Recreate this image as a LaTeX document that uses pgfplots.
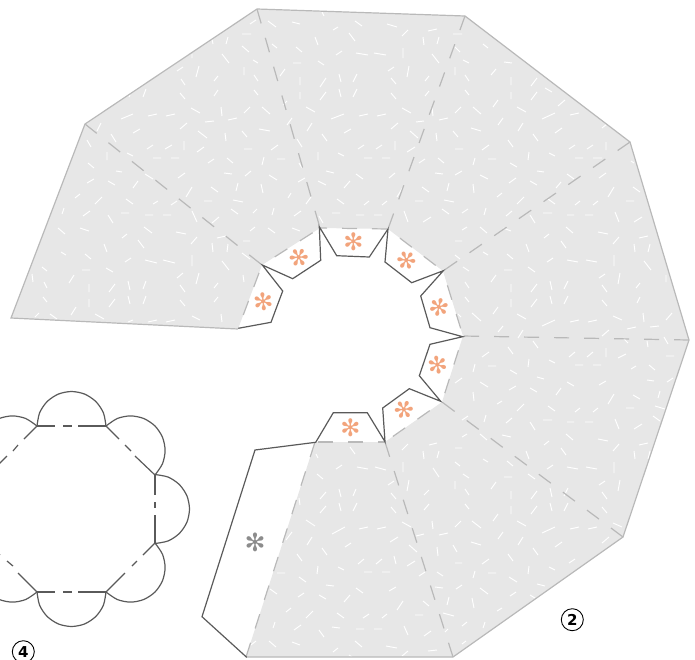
\documentclass[border=0pt]{standalone}
\usepackage{pgfplots}
\pgfplotsset{compat=1.18}
\usepackage{fontspec}
\setmainfont{DejaVu Sans}
\definecolor{paper}{HTML}{E7E7E7}
\definecolor{fold}{HTML}{B9B9B9}
\definecolor{tabline}{HTML}{5A5A5A}
\definecolor{spark}{HTML}{F2A47C}
\definecolor{sparkgray}{HTML}{8C8C8C}
\newcommand\Spark[5]{\addplot[only marks,mark=text,text mark as node=true,text mark={\fontsize{#5}{#5}\selectfont ✻},text mark style={text=#4,rotate=#3,inner sep=0pt}] coordinates {(#1,#2)};}
\begin{document}
\begin{tikzpicture}[x=1pt,y=1pt]
\useasboundingbox (0,0) rectangle (695,659);
\clip (0,0) rectangle (695,659);
\begin{axis}[at={(0,0)},anchor=south west,scale only axis,width=695pt,height=659pt,
 xmin=0,xmax=695,ymin=0,ymax=659,y dir=reverse,axis lines=none,unbounded coords=jump,clip=true]
% paper
\addplot[fill=paper,draw=none] coordinates {(257,9)(465,16)(630,142)(689,340)(623,537)(453,657)(246,657)(315,442)(385,442)(442,402)(463,336)(443,271)(388,229)(320,228)(262,265)(238,329)(11,318)(85,124)(257,9)};
% texture
\addplot[white,line width=0.95pt] coordinates {
(87,140)(91,147)(nan,nan)(107,152)(107,160)(nan,nan)(88,163)(94,168)(nan,nan)(116,171)(122,172)(nan,nan)(87,183)(94,179)(nan,nan)(108,181)(115,185)(nan,nan)(133,188)(138,181)(nan,nan)(75,198)(80,194)(nan,nan)(95,204)(102,197)(nan,nan)(126,199)(133,204)(nan,nan)(153,204)(158,201)(nan,nan)(171,205)(177,201)(nan,nan)(62,214)(64,208)(nan,nan)(83,216)(90,211)(nan,nan)(108,215)(113,223)(nan,nan)(121,213)(129,213)(nan,nan)(145,215)(153,215)(nan,nan)(163,215)(171,215)(nan,nan)(192,211)(197,222)(nan,nan)(58,228)(65,234)(nan,nan)(80,228)(89,231)(nan,nan)(122,238)(127,234)(nan,nan)(144,227)(152,233)(nan,nan)(176,232)(186,234)(nan,nan)(191,244)(197,237)(nan,nan)(212,243)(213,252)(nan,nan)(217,238)(226,236)(nan,nan)(227,252)(228,244)(nan,nan)(243,241)(250,241)(nan,nan)(104,244)(107,252)(nan,nan)(138,240)(144,248)(nan,nan)(61,252)(66,255)(nan,nan)(85,254)(91,259)(nan,nan)(125,262)(131,258)(nan,nan)(145,260)(157,263)(nan,nan)(163,260)(175,263)(nan,nan)(192,255)(192,266)(nan,nan)(222,261)(229,270)(nan,nan)(243,275)(244,282)(nan,nan)(42,267)(47,271)(nan,nan)(82,270)(90,270)(nan,nan)(106,268)(113,272)(nan,nan)(32,274)(33,282)(nan,nan)(69,283)(74,275)(nan,nan)(44,282)(47,288)(nan,nan)(89,284)(89,292)(nan,nan)(109,292)(115,284)(nan,nan)(128,281)(130,290)(nan,nan)(143,289)(146,281)(nan,nan)(177,278)(183,273)(nan,nan)(196,284)(199,273)(nan,nan)(180,285)(185,292)(nan,nan)(214,288)(218,283)(nan,nan)(43,297)(47,302)(nan,nan)(89,299)(89,307)(nan,nan)(109,307)(115,299)(nan,nan)(128,296)(130,304)(nan,nan)(143,304)(146,296)(nan,nan)(180,300)(185,306)(nan,nan)(214,302)(218,297)(nan,nan)(71,315)(76,307)(nan,nan)(35,317)(39,313)(nan,nan)(50,314)(57,319)(nan,nan)(95,314)(104,319)(nan,nan)(128,322)(133,320)(nan,nan)(148,322)(157,320)(nan,nan)(166,322)(175,320)(nan,nan)(192,316)(200,320)(nan,nan)(221,314)(222,322)(nan,nan)
(250,24)(256,20)(nan,nan)(242,34)(251,34)(nan,nan)(268,21)(276,27)(nan,nan)(292,22)(300,24)(nan,nan)(322,12)(324,16)(nan,nan)(212,39)(213,44)(nan,nan)(226,44)(228,37)(nan,nan)(242,46)(249,52)(nan,nan)(272,44)(277,48)(nan,nan)(315,37)(318,45)(nan,nan)(296,47)(302,52)(nan,nan)(192,54)(192,58)(nan,nan)(222,54)(229,63)(nan,nan)(253,60)(258,63)(nan,nan)(293,63)(301,63)(nan,nan)(318,61)(324,65)(nan,nan)(177,71)(183,67)(nan,nan)(196,77)(199,66)(nan,nan)(244,67)(244,75)(nan,nan)(280,76)(285,69)(nan,nan)(214,81)(218,76)(nan,nan)(254,75)(258,81)(nan,nan)(300,77)(300,85)(nan,nan)(320,87)(326,78)(nan,nan)(181,79)(185,85)(nan,nan)(143,97)(146,89)(nan,nan)(129,97)(130,95)(nan,nan)(214,96)(218,90)(nan,nan)(254,90)(258,95)(nan,nan)(300,92)(300,99)(nan,nan)(320,100)(326,92)(nan,nan)(180,93)(185,99)(nan,nan)(283,105)(287,101)(nan,nan)(121,119)(133,114)(nan,nan)(148,116)(157,114)(nan,nan)(166,116)(175,114)(nan,nan)(191,108)(200,113)(nan,nan)(221,107)(222,116)(nan,nan)(244,113)(250,107)(nan,nan)(262,107)(270,114)(nan,nan)(306,107)(315,112)(nan,nan)(205,122)(214,121)(nan,nan)(228,120)(237,118)(nan,nan)(287,125)(292,118)(nan,nan)(307,131)(312,123)(nan,nan)(97,131)(101,123)(nan,nan)(180,129)(187,123)(nan,nan)(133,133)(140,129)(nan,nan)(111,134)(116,142)(nan,nan)(198,131)(207,138)(nan,nan)(225,133)(226,141)(nan,nan)(242,131)(247,137)(nan,nan)(259,129)(270,131)(nan,nan)(322,134)(327,141)(nan,nan)(147,149)(153,145)(nan,nan)(165,149)(172,145)(nan,nan)(184,141)(184,150)(nan,nan)(197,152)(204,147)(nan,nan)(297,139)(302,147)(nan,nan)(271,150)(278,145)(nan,nan)(244,149)(252,149)(nan,nan)(127,153)(133,156)(nan,nan)(153,158)(161,158)(nan,nan)(171,158)(179,158)(nan,nan)(208,163)(214,159)(nan,nan)(227,158)(233,163)(nan,nan)(262,165)(264,157)(nan,nan)(277,159)(285,159)(nan,nan)(318,160)(318,152)(nan,nan)(299,163)(302,168)(nan,nan)(224,173)(232,174)(nan,nan)(245,176)(251,171)(nan,nan)(145,174)(153,179)(nan,nan)(178,178)(185,173)(nan,nan)(269,175)(277,180)(nan,nan)(298,182)(305,178)(nan,nan)(318,181)(326,185)(nan,nan)(236,191)(238,183)(nan,nan)(186,197)(192,187)(nan,nan)(211,187)(218,192)(nan,nan)(261,184)(263,193)(nan,nan)(288,198)(291,193)(nan,nan)(204,201)(212,201)(nan,nan)(233,200)(243,202)(nan,nan)(306,204)(311,197)(nan,nan)(253,213)(257,209)(nan,nan)(231,209)(238,214)(nan,nan)(272,215)(274,208)(nan,nan)(294,216)(301,211)(nan,nan)(212,223)(219,217)(nan,nan)(319,216)(323,223)(nan,nan)(250,231)(255,227)(nan,nan)(268,228)(275,233)(nan,nan)(292,228)(300,231)(nan,nan)(242,253)(250,259)(nan,nan)
(355,21)(362,26)(nan,nan)(387,24)(397,27)(nan,nan)(333,30)(338,27)(nan,nan)(428,31)(437,29)(nan,nan)(402,36)(408,30)(nan,nan)(453,34)(462,34)(nan,nan)(349,33)(355,41)(nan,nan)(423,37)(424,45)(nan,nan)(437,44)(439,37)(nan,nan)(454,46)(460,52)(nan,nan)(483,44)(488,48)(nan,nan)(336,55)(342,51)(nan,nan)(356,53)(368,55)(nan,nan)(374,53)(386,55)(nan,nan)(403,48)(403,58)(nan,nan)(432,54)(439,63)(nan,nan)(463,60)(469,63)(nan,nan)(504,62)(512,63)(nan,nan)(388,71)(394,67)(nan,nan)(407,77)(409,66)(nan,nan)(455,67)(455,75)(nan,nan)(491,75)(496,69)(nan,nan)(339,74)(341,82)(nan,nan)(353,82)(357,74)(nan,nan)(425,81)(429,76)(nan,nan)(465,75)(469,81)(nan,nan)(511,77)(511,85)(nan,nan)(531,86)(537,78)(nan,nan)(391,78)(396,84)(nan,nan)(339,89)(341,97)(nan,nan)(353,97)(357,89)(nan,nan)(425,96)(429,91)(nan,nan)(465,90)(469,95)(nan,nan)(511,92)(511,99)(nan,nan)(531,100)(537,92)(nan,nan)(391,93)(396,99)(nan,nan)(493,107)(498,100)(nan,nan)(331,119)(344,114)(nan,nan)(359,116)(368,114)(nan,nan)(377,116)(386,114)(nan,nan)(402,108)(411,113)(nan,nan)(432,107)(433,116)(nan,nan)(455,113)(461,107)(nan,nan)(473,107)(481,114)(nan,nan)(517,107)(526,112)(nan,nan)(416,122)(424,121)(nan,nan)(439,120)(448,118)(nan,nan)(391,129)(398,123)(nan,nan)(344,133)(351,129)(nan,nan)(410,131)(418,138)(nan,nan)(436,133)(437,141)(nan,nan)(358,149)(364,145)(nan,nan)(376,149)(382,145)(nan,nan)(395,141)(395,150)(nan,nan)(407,152)(415,147)(nan,nan)(453,131)(458,137)(nan,nan)(338,153)(344,156)(nan,nan)(364,158)(372,158)(nan,nan)(382,158)(390,158)(nan,nan)(419,163)(425,159)(nan,nan)(438,158)(444,163)(nan,nan)(455,149)(463,149)(nan,nan)(435,173)(443,174)(nan,nan)(356,174)(363,179)(nan,nan)(389,178)(395,173)(nan,nan)(326,171)(334,173)(nan,nan)(344,188)(350,181)(nan,nan)(447,191)(449,183)(nan,nan)(397,197)(403,187)(nan,nan)(422,187)(429,192)(nan,nan)(337,199)(344,204)(nan,nan)(364,205)(369,201)(nan,nan)(382,205)(387,201)(nan,nan)(415,201)(423,201)(nan,nan)(444,200)(454,202)(nan,nan)(332,213)(340,213)(nan,nan)(356,215)(364,215)(nan,nan)(374,215)(382,215)(nan,nan)(404,211)(408,222)(nan,nan)(423,222)(431,217)(nan,nan)(442,209)(449,214)(nan,nan)(545,88)(552,92)(nan,nan)(565,100)(558,106)(nan,nan)
(498,125)(503,118)(nan,nan)(518,131)(523,123)(nan,nan)(542,119)(555,113)(nan,nan)(570,115)(579,113)(nan,nan)(471,128)(481,131)(nan,nan)(533,134)(538,141)(nan,nan)(555,133)(562,128)(nan,nan)(508,140)(513,147)(nan,nan)(602,128)(607,124)(nan,nan)(482,150)(489,145)(nan,nan)(569,149)(575,145)(nan,nan)(587,149)(593,145)(nan,nan)(606,150)(606,142)(nan,nan)(528,160)(529,152)(nan,nan)(549,153)(555,156)(nan,nan)(575,158)(583,158)(nan,nan)(593,158)(602,158)(nan,nan)(473,165)(475,158)(nan,nan)(488,159)(496,159)(nan,nan)(631,161)(634,163)(nan,nan)(510,163)(517,167)(nan,nan)(455,175)(462,171)(nan,nan)(537,171)(544,172)(nan,nan)(480,175)(488,179)(nan,nan)(509,183)(516,178)(nan,nan)(567,174)(574,179)(nan,nan)(599,178)(606,173)(nan,nan)(530,181)(537,185)(nan,nan)(556,188)(561,182)(nan,nan)(473,184)(474,193)(nan,nan)(633,187)(640,192)(nan,nan)(608,197)(614,187)(nan,nan)(497,197)(502,193)(nan,nan)(517,204)(524,197)(nan,nan)(548,199)(555,204)(nan,nan)(575,205)(580,201)(nan,nan)(593,205)(598,201)(nan,nan)(626,201)(634,201)(nan,nan)(462,213)(468,209)(nan,nan)(484,215)(486,208)(nan,nan)(506,216)(512,211)(nan,nan)(530,215)(535,223)(nan,nan)(543,213)(552,213)(nan,nan)(567,215)(574,215)(nan,nan)(585,215)(593,215)(nan,nan)(615,212)(619,222)(nan,nan)(634,222)(642,217)(nan,nan)(462,230)(467,227)(nan,nan)(480,227)(487,233)(nan,nan)(503,228)(511,231)(nan,nan)(544,238)(549,234)(nan,nan)(566,227)(573,233)(nan,nan)(598,232)(608,234)(nan,nan)(639,238)(648,236)(nan,nan)(613,244)(619,237)(nan,nan)(455,241)(462,241)(nan,nan)(483,252)(488,255)(nan,nan)(526,244)(529,252)(nan,nan)(561,241)(566,248)(nan,nan)(634,244)(635,252)(nan,nan)(648,252)(650,244)(nan,nan)(455,255)(460,259)(nan,nan)(507,254)(513,259)(nan,nan)(547,262)(553,258)(nan,nan)(567,260)(578,262)(nan,nan)(586,260)(597,262)(nan,nan)(614,255)(614,266)(nan,nan)(644,261)(651,270)(nan,nan)(463,267)(469,271)(nan,nan)(504,270)(512,270)(nan,nan)(528,267)(535,272)(nan,nan)(599,278)(605,274)(nan,nan)(618,284)(620,273)(nan,nan)(491,282)(496,275)(nan,nan)(666,275)(666,282)(nan,nan)(465,282)(469,288)(nan,nan)(511,284)(511,292)(nan,nan)(531,292)(537,284)(nan,nan)(550,281)(552,290)(nan,nan)(564,289)(568,281)(nan,nan)(602,285)(607,292)(nan,nan)(636,288)(640,283)(nan,nan)(465,297)(469,302)(nan,nan)(511,299)(511,307)(nan,nan)(531,307)(537,299)(nan,nan)(550,296)(552,304)(nan,nan)(564,304)(568,296)(nan,nan)(602,300)(607,306)(nan,nan)(637,303)(640,297)(nan,nan)(493,314)(498,307)(nan,nan)(472,313)(481,321)(nan,nan)(517,314)(526,319)(nan,nan)(458,314)(461,317)(nan,nan)(542,326)(555,320)(nan,nan)(570,322)(579,320)(nan,nan)(588,322)(597,320)(nan,nan)(613,316)(622,320)(nan,nan)(643,313)(644,322)(nan,nan)(666,320)(672,313)(nan,nan)(498,332)(503,326)(nan,nan)(518,338)(523,330)(nan,nan)(602,336)(609,330)(nan,nan)(627,329)(636,327)(nan,nan)(650,327)(659,326)(nan,nan)(623,338)(628,343)(nan,nan)(647,341)(648,347)(nan,nan)(664,337)(668,344)(nan,nan)
(533,341)(538,348)(nan,nan)(508,347)(513,354)(nan,nan)(482,357)(489,352)(nan,nan)(569,357)(575,352)(nan,nan)(587,357)(593,352)(nan,nan)(606,357)(606,348)(nan,nan)(618,358)(626,354)(nan,nan)(666,356)(674,356)(nan,nan)(528,367)(529,359)(nan,nan)(549,360)(555,363)(nan,nan)(575,365)(583,365)(nan,nan)(593,365)(601,365)(nan,nan)(473,372)(475,364)(nan,nan)(488,366)(496,366)(nan,nan)(631,369)(636,366)(nan,nan)(649,365)(655,370)(nan,nan)(510,370)(517,374)(nan,nan)(455,383)(462,378)(nan,nan)(537,377)(544,379)(nan,nan)(647,380)(654,381)(nan,nan)(480,382)(488,387)(nan,nan)(509,390)(516,386)(nan,nan)(567,382)(574,386)(nan,nan)(599,385)(606,381)(nan,nan)(667,382)(673,378)(nan,nan)(530,388)(537,392)(nan,nan)(556,395)(561,388)(nan,nan)(473,392)(474,401)(nan,nan)(633,395)(640,399)(nan,nan)(658,398)(660,391)(nan,nan)(608,404)(614,394)(nan,nan)(497,404)(502,401)(nan,nan)(517,411)(524,404)(nan,nan)(548,406)(555,411)(nan,nan)(575,412)(580,408)(nan,nan)(593,412)(598,408)(nan,nan)(626,408)(634,408)(nan,nan)(655,406)(665,409)(nan,nan)(462,420)(468,416)(nan,nan)(484,422)(486,415)(nan,nan)(506,423)(512,418)(nan,nan)(530,422)(535,430)(nan,nan)(543,420)(552,420)(nan,nan)(567,422)(574,422)(nan,nan)(585,422)(593,422)(nan,nan)(615,419)(619,429)(nan,nan)(634,429)(642,424)(nan,nan)(653,416)(660,421)(nan,nan)(462,437)(467,434)(nan,nan)(480,434)(487,440)(nan,nan)(502,435)(511,437)(nan,nan)(544,445)(549,441)(nan,nan)(566,434)(573,440)(nan,nan)(598,439)(608,441)(nan,nan)(639,445)(648,443)(nan,nan)(613,451)(619,444)(nan,nan)(455,448)(462,448)(nan,nan)(483,459)(488,462)(nan,nan)(526,451)(529,459)(nan,nan)(561,448)(566,455)(nan,nan)(634,451)(635,459)(nan,nan)(648,459)(650,451)(nan,nan)(455,462)(460,466)(nan,nan)(507,461)(513,466)(nan,nan)(547,469)(553,465)(nan,nan)(567,467)(578,469)(nan,nan)(586,467)(597,469)(nan,nan)(614,462)(614,473)(nan,nan)(463,474)(469,478)(nan,nan)(504,477)(512,477)(nan,nan)(528,474)(535,479)(nan,nan)(599,485)(605,481)(nan,nan)(618,491)(620,480)(nan,nan)(491,489)(496,482)(nan,nan)(465,489)(469,495)(nan,nan)(511,491)(511,499)(nan,nan)(531,499)(537,491)(nan,nan)(550,488)(552,497)(nan,nan)(564,496)(568,488)(nan,nan)(602,492)(607,499)(nan,nan)(465,504)(469,509)(nan,nan)(511,506)(511,514)(nan,nan)(531,514)(537,506)(nan,nan)(550,503)(552,511)(nan,nan)(564,511)(568,503)(nan,nan)(602,507)(607,513)(nan,nan)(493,521)(498,514)(nan,nan)(472,521)(481,528)(nan,nan)(517,521)(526,526)(nan,nan)(455,527)(461,521)(nan,nan)(542,533)(555,527)(nan,nan)(570,529)(579,527)(nan,nan)(588,529)(597,527)(nan,nan)(613,523)(622,527)(nan,nan)(498,539)(503,532)(nan,nan)(518,545)(523,537)(nan,nan)(602,543)(609,537)(nan,nan)(471,542)(481,545)(nan,nan)(555,547)(562,542)(nan,nan)(533,548)(538,555)(nan,nan)(508,554)(513,561)(nan,nan)(569,563)(575,559)(nan,nan)(455,563)(462,563)(nan,nan)(482,564)(489,559)(nan,nan)(528,574)(529,566)(nan,nan)(549,567)(555,570)(nan,nan)(488,573)(496,573)(nan,nan)
(402,450)(408,444)(nan,nan)(429,445)(437,443)(nan,nan)(423,451)(424,459)(nan,nan)(437,458)(439,451)(nan,nan)(403,472)(403,462)(nan,nan)(433,468)(439,477)(nan,nan)(388,485)(394,481)(nan,nan)(407,491)(409,480)(nan,nan)(455,481)(455,489)(nan,nan)(424,495)(429,490)(nan,nan)(391,493)(396,499)(nan,nan)(424,510)(429,504)(nan,nan)(391,507)(396,513)(nan,nan)(402,522)(411,527)(nan,nan)(432,521)(433,529)(nan,nan)(416,536)(424,534)(nan,nan)(439,535)(448,533)(nan,nan)(390,542)(398,537)(nan,nan)(409,545)(417,552)(nan,nan)(437,547)(438,556)(nan,nan)(453,545)(457,552)(nan,nan)(407,566)(415,561)(nan,nan)(394,556)(396,564)(nan,nan)(419,576)(425,572)(nan,nan)(437,572)(443,576)(nan,nan)(435,587)(443,588)(nan,nan)(389,591)(396,587)(nan,nan)(397,610)(403,601)(nan,nan)(423,601)(429,606)(nan,nan)(447,605)(449,597)(nan,nan)(415,615)(423,615)(nan,nan)(443,613)(454,616)(nan,nan)(404,626)(408,635)(nan,nan)(424,636)(431,631)(nan,nan)(386,646)(397,648)(nan,nan)(428,651)(437,650)(nan,nan)(402,656)(408,651)(nan,nan)(445,632)(448,629)(nan,nan)(456,589)(462,585)(nan,nan)(472,598)(474,608)(nan,nan)(480,588)(488,594)(nan,nan)(510,596)(516,592)(nan,nan)(530,595)(535,598)(nan,nan)(497,611)(502,608)(nan,nan)(462,626)(467,622)(nan,nan)(483,628)(485,622)(nan,nan)(462,644)(466,641)(nan,nan)(537,584)(545,586)(nan,nan)(509,577)(517,582)(nan,nan)(473,578)(475,571)(nan,nan)
(316,454)(318,458)(nan,nan)(350,447)(355,454)(nan,nan)(336,469)(342,465)(nan,nan)(357,467)(368,469)(nan,nan)(375,467)(386,470)(nan,nan)(317,474)(323,479)(nan,nan)(320,499)(326,492)(nan,nan)(339,489)(341,497)(nan,nan)(353,496)(356,489)(nan,nan)(320,513)(326,506)(nan,nan)(339,503)(341,511)(nan,nan)(353,511)(357,503)(nan,nan)(299,498)(300,505)(nan,nan)(306,520)(315,526)(nan,nan)(332,534)(345,527)(nan,nan)(359,529)(368,527)(nan,nan)(377,529)(386,527)(nan,nan)(286,540)(292,532)(nan,nan)(307,545)(312,537)(nan,nan)(345,547)(351,543)(nan,nan)(297,554)(302,561)(nan,nan)(322,548)(327,555)(nan,nan)(277,573)(285,573)(nan,nan)(317,574)(318,566)(nan,nan)(338,567)(344,570)(nan,nan)(358,564)(364,559)(nan,nan)(376,564)(382,559)(nan,nan)(364,572)(372,572)(nan,nan)(382,572)(390,572)(nan,nan)(299,577)(306,582)(nan,nan)(326,585)(334,586)(nan,nan)(270,589)(277,594)(nan,nan)(298,597)(304,593)(nan,nan)(319,595)(326,599)(nan,nan)(356,588)(363,593)(nan,nan)(344,602)(350,595)(nan,nan)(259,606)(263,602)(nan,nan)(286,612)(291,608)(nan,nan)(306,618)(313,611)(nan,nan)(337,613)(344,618)(nan,nan)(363,618)(369,614)(nan,nan)(382,618)(387,614)(nan,nan)(273,628)(275,622)(nan,nan)(294,630)(301,625)(nan,nan)(332,627)(340,628)(nan,nan)(356,629)(364,629)(nan,nan)(374,629)(382,629)(nan,nan)(319,630)(324,637)(nan,nan)(251,645)(256,641)(nan,nan)(269,641)(276,647)(nan,nan)(292,642)(300,645)(nan,nan)(355,641)(362,647)(nan,nan)(333,652)(338,648)(nan,nan)(349,655)(352,657)
};
% outline
\addplot[fold,line width=1.2pt] coordinates {(238,329)(11,318)(85,124)(257,9)(465,16)(630,142)(689,340)(623,537)(453,657)(246,657)};
% radial folds
\addplot[fold,line width=1.2pt,dash pattern=on 15pt off 15pt] coordinates {(257,9)(320,228)};
\addplot[fold,line width=1.2pt,dash pattern=on 15pt off 15pt] coordinates {(465,16)(388,229)};
\addplot[fold,line width=1.2pt,dash pattern=on 15pt off 15pt] coordinates {(630,142)(443,271)};
\addplot[fold,line width=1.2pt,dash pattern=on 15pt off 15pt] coordinates {(689,340)(463,336)};
\addplot[fold,line width=1.2pt,dash pattern=on 15pt off 15pt] coordinates {(623,537)(442,402)};
\addplot[fold,line width=1.2pt,dash pattern=on 15pt off 15pt] coordinates {(453,657)(385,442)};
\addplot[fold,line width=1.2pt,dash pattern=on 15pt off 15pt] coordinates {(85,124)(262,265)};
\addplot[fold,line width=1.2pt,dash pattern=on 15pt off 15pt] coordinates {(246,657)(315,442)};
% ring folds
\addplot[fold,line width=1.2pt,dash pattern=on 15pt off 15pt,dash phase=15pt] coordinates {(238,329)(262,265)};
\addplot[fold,line width=1.2pt,dash pattern=on 15pt off 15pt,dash phase=15pt] coordinates {(262,265)(320,228)};
\addplot[fold,line width=1.2pt,dash pattern=on 15pt off 15pt,dash phase=8pt] coordinates {(320,228)(388,229)};
\addplot[fold,line width=1.2pt,dash pattern=on 15pt off 15pt,dash phase=15pt] coordinates {(388,229)(443,271)};
\addplot[fold,line width=1.2pt,dash pattern=on 15pt off 15pt,dash phase=15pt] coordinates {(443,271)(463,336)};
\addplot[fold,line width=1.2pt,dash pattern=on 15pt off 15pt,dash phase=15pt] coordinates {(463,336)(442,402)};
\addplot[fold,line width=1.2pt,dash pattern=on 15pt off 15pt,dash phase=15pt] coordinates {(442,402)(385,442)};
\addplot[fold,line width=1.2pt,dash pattern=on 15pt off 15pt,dash phase=8pt] coordinates {(385,442)(315,442)};
% tabs
\addplot[tabline,line width=1.2pt] coordinates {(238.3,328.3)(271,322.3)(282.7,291)(262.3,265)(292.7,278.7)(320.7,260.3)(319.3,226.7)(336.7,255.7)(369.3,257)(388,229)(385,262)(411.7,282.7)(443.3,270.7)(420.7,296)(430,327.7)(462.7,336.7)(430,344.3)(419.3,375.7)(440.7,401.3)(409.3,388.7)(382.7,408)(385,441.7)(367.3,412.7)(333.3,412.7)(315.7,442.3)(255,450)(202,616.7)(246.7,657.3)};
% sparks
\Spark{263.3}{301.7}{6}{spark}{24}
\Spark{298.7}{257.3}{33}{spark}{24}
\Spark{353.3}{242}{0}{spark}{24}
\Spark{407}{261}{-37}{spark}{24}
\Spark{439.3}{307.7}{-14}{spark}{24}
\Spark{438}{364.7}{10}{spark}{24}
\Spark{404.3}{410.3}{-25}{spark}{24}
\Spark{350.3}{428}{0}{spark}{24}
\Spark{255}{542.3}{0}{sparkgray}{25}
% flower
\addplot[tabline,line width=1.2pt,smooth] coordinates {(37,426)(39.6,412.8)(47.1,401.6)(58.3,394.1)(71.5,391.5)(84.7,394.1)(95.9,401.6)(103.4,412.8)(106,426)};
\addplot[tabline,line width=1.2pt,smooth] coordinates {(37,592)(39.6,605.2)(47.1,616.4)(58.3,623.9)(71.5,626.5)(84.7,623.9)(95.9,616.4)(103.4,605.2)(106,592)};
\addplot[tabline,line width=1.2pt,smooth] coordinates {(155,474.5)(168.2,477.1)(179.4,484.6)(186.9,495.8)(189.5,509)(186.9,522.2)(179.4,533.4)(168.2,540.9)(155,543.5)};
\addplot[tabline,line width=1.2pt,smooth] coordinates {(106,426)(117.3,418.5)(130.5,415.9)(143.7,418.5)(155,426)(162.5,437.3)(165.1,450.5)(162.5,463.7)(155,475)};
\addplot[tabline,line width=1.2pt,smooth] coordinates {(155,543)(162.5,554.3)(165.1,567.5)(162.5,580.7)(155,592)(143.7,599.5)(130.5,602.1)(117.3,599.5)(106,592)};
\addplot[tabline,line width=1.2pt,smooth] coordinates {(37,426)(25.7,418.5)(12.5,415.9)(-0.7,418.5)(-12,426)(-19.5,437.3)};
\addplot[tabline,line width=1.2pt,smooth] coordinates {(37,592)(25.7,599.5)(12.5,602.1)(-0.7,599.5)(-12,592)(-19.5,580.7)};
\addplot[tabline,line width=1.2pt] coordinates {(37,426)(55,426)(nan,nan)(63,426)(72,426)(nan,nan)(78,426)(106,426)};
\addplot[tabline,line width=1.2pt] coordinates {(37,592)(55,592)(nan,nan)(63,592)(72,592)(nan,nan)(78,592)(106,592)};
\addplot[tabline,line width=1.2pt] coordinates {(155,474.5)(155,495)(nan,nan)(155,502)(155,508)(nan,nan)(155,515)(155,543.5)};
\addplot[tabline,line width=1.2pt] coordinates {(106,426)(119,439)(nan,nan)(125,445)(131,451)(nan,nan)(135,456)(155,475)};
\addplot[tabline,line width=1.2pt] coordinates {(155,543)(143,555)(nan,nan)(137,561)(132,566)(nan,nan)(125,573)(106,592)};
\addplot[tabline,line width=1.2pt] coordinates {(37,426)(24,439)(nan,nan)(18,445)(13,451)(nan,nan)(7,456)(-12,475)};
\addplot[tabline,line width=1.2pt] coordinates {(37,592)(18,573)(nan,nan)(13,566)(7,561)(nan,nan)(0,555)(-12,543)};
% number badges
\addplot[only marks,mark=o,mark size=11pt,mark options={black,line width=0.9pt}] coordinates {(572.3,619.7)(23.3,651.7)};
\addplot[only marks,mark=text,text mark as node=true,text mark={\fontsize{15}{15}\selectfont\bfseries 2},text mark style={text=black,inner sep=0pt}] coordinates {(572.3,619.7)};
\addplot[only marks,mark=text,text mark as node=true,text mark={\fontsize{15}{15}\selectfont\bfseries 4},text mark style={text=black,inner sep=0pt}] coordinates {(23.3,651.7)};
\end{axis}
\end{tikzpicture}
\end{document}
